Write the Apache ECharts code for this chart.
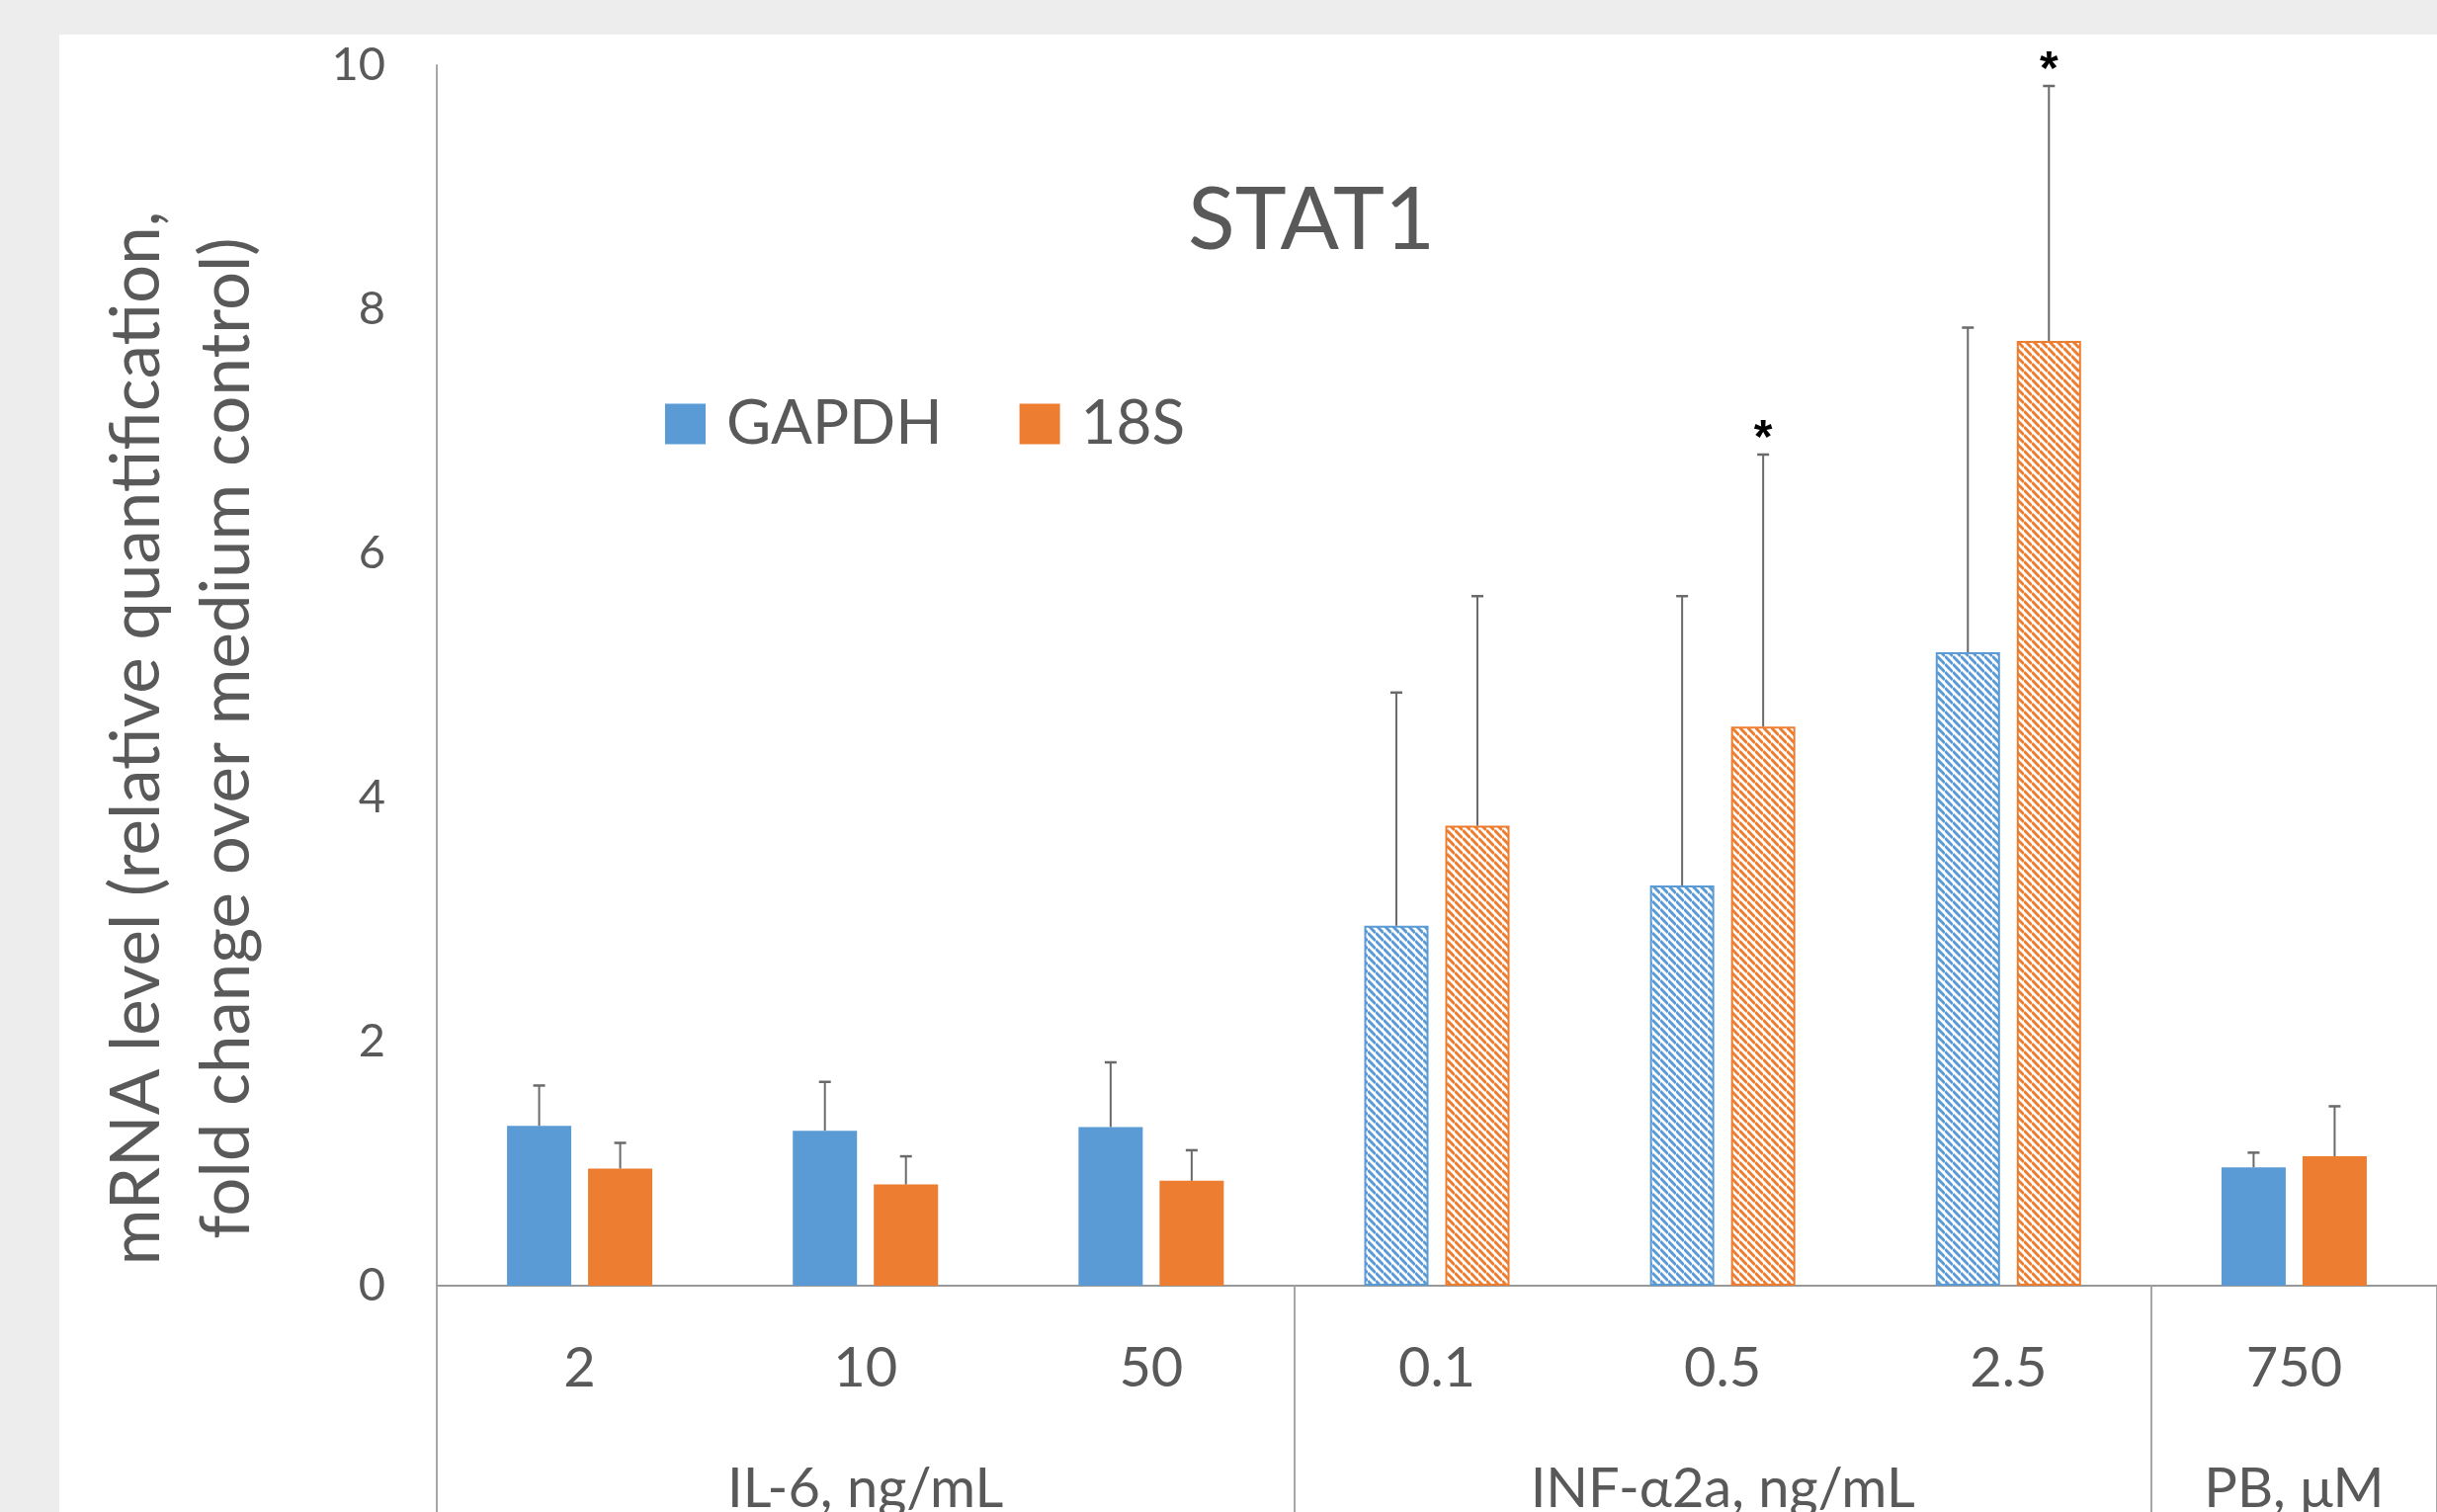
<!DOCTYPE html>
<html><head><meta charset="utf-8">
<script src="https://cdn.jsdelivr.net/npm/echarts@6/dist/echarts.min.js"></script>
<style>
html,body{margin:0;padding:0;background:#ededed;width:2466px;height:1530px;overflow:hidden;}
#panel{position:absolute;left:60px;top:35px;width:2406px;height:1495px;background:#fff;}
#chart{position:absolute;left:0;top:0;width:2466px;height:1530px;}
</style></head>
<body><div id="panel"></div><div id="chart"></div>
<script>
// ---- data ----
const categories = ['2', '10', '50', '0.1', '0.5', '2.5', '750'];
const groupLabels = ['IL-6, ng/mL', 'INF-α2a, ng/mL', 'PB, μM'];
const groupStartIndex = [0, 3, 6];
const groupLabelIndex = [1, 4, 6];
const gapdhMean = [1.31, 1.27, 1.30, 2.95, 3.28, 5.19, 0.97];
const gapdhErr  = [0.33, 0.40, 0.53, 1.91, 2.37, 2.66, 0.12];
const s18Mean   = [0.96, 0.83, 0.86, 3.77, 4.58, 7.74, 1.06];
const s18Err    = [0.21, 0.23, 0.25, 1.88, 2.23, 2.09, 0.41];
const s18Stars  = ['', '', '', '', '*', '*', ''];
const gapdhStars = ['', '', '', '', '', '', ''];
const hatched   = [false, false, false, true, true, true, false];
const yTicks = [0, 2, 4, 6, 8, 10];

// ---- style ----
const BLUE = '#5B9BD5', ORANGE = '#ED7D31', TXT = '#595959';
const FONT = 'Lato';
const BAR_W = 65, BAR_GAP_PX = 17;
const OFFSET = (BAR_W + BAR_GAP_PX) / 2;

function hatch(color) {
  const s = 8;
  const c = document.createElement('canvas');
  c.width = s; c.height = s;
  const ctx = c.getContext('2d');
  ctx.fillStyle = '#fff'; ctx.fillRect(0, 0, s, s);
  ctx.strokeStyle = color; ctx.lineWidth = 3;
  for (const k of [-s, 0, s]) {
    ctx.beginPath(); ctx.moveTo(0, k); ctx.lineTo(s, k + s); ctx.stroke();
  }
  return c;
}
const hatchBlue = hatch(BLUE), hatchOrange = hatch(ORANGE);

function barData(vals, color, pat) {
  return vals.map((v, i) => hatched[i]
    ? { value: v, itemStyle: { color: { image: pat, repeat: 'repeat' }, borderColor: color, borderWidth: 2 } }
    : { value: v });
}
function errData(mean, err, side, stars) {
  return mean.map((m, i) => [i, m, err[i], side, stars[i]]);
}
function renderErr(params, api) {
  const i = api.value(0), m = api.value(1), e = api.value(2), side = api.value(3);
  const star = api.value(4);
  const b = api.coord([i, m]);
  const t = api.coord([i, m + e]);
  const x = b[0] + side * OFFSET;
  const children = [
    { type: 'line', shape: { x1: x, y1: b[1], x2: x, y2: t[1] }, style: { stroke: '#6a6a6a', lineWidth: 2 } },
    { type: 'line', shape: { x1: x - 6, y1: t[1], x2: x + 6, y2: t[1] }, style: { stroke: '#6a6a6a', lineWidth: 2.5 } }
  ];
  if (star && star !== '-' ) {
    children.push({ type: 'text', x: x, y: t[1] - 15,
      style: { text: String(star), fill: '#000', font: 'bold 48px "Liberation Sans"', textAlign: 'center', textVerticalAlign: 'middle' } });
  }
  return { type: 'group', children };
}

const chart = echarts.init(document.getElementById('chart'), null, { renderer: 'canvas' });
chart.setOption({
  animation: false,
  backgroundColor: 'transparent',
  textStyle: { fontFamily: FONT },
  grid: { left: 442, top: 66, right: 0, bottom: 229, containLabel: false, outerBoundsMode: 'none' },
  legend: {
    data: ['GAPDH', '18S'], left: 673, top: 398, padding: 0,
    icon: 'rect', itemWidth: 41, itemHeight: 41, itemGap: 78,
    textStyle: { fontFamily: FONT, fontSize: 62, lineHeight: 62, color: TXT, padding: [0, 0, 0, 16] }
  },
  xAxis: [{
    type: 'category', data: categories, position: 'bottom',
    axisLine: { show: true, lineStyle: { color: '#999', width: 2 } },
    axisTick: { show: true, interval: (idx) => groupStartIndex.includes(idx), length: 229, lineStyle: { color: '#a6a6a6', width: 2 } },
    axisLabel: { interval: 0, fontFamily: FONT, fontSize: 56, lineHeight: 56, color: TXT, margin: 56 }
  }, {
    type: 'category', data: categories, position: 'bottom', gridIndex: 0,
    axisLine: { show: false }, axisTick: { show: false },
    axisLabel: { interval: 0, fontFamily: FONT, fontSize: 56, lineHeight: 56, color: TXT, margin: 178,
      formatter: (v, idx) => { const g = groupLabelIndex.indexOf(idx); return g >= 0 ? groupLabels[g] : ''; } }
  }],
  yAxis: {
    type: 'value', min: 0, max: 10, interval: 2,
    axisLine: { show: true, lineStyle: { color: '#a6a6a6', width: 2 } },
    axisTick: { show: false }, splitLine: { show: false },
    axisLabel: { fontFamily: FONT, fontSize: 47, color: TXT, margin: 52,
      formatter: (v) => yTicks.includes(v) ? String(v) : '' }
  },
  graphic: [
    { type: 'text', x: 1327, y: 224, style: { text: 'STAT1', font: '88px Lato', fill: TXT, textAlign: 'center', textVerticalAlign: 'middle' } },
    { type: 'text', x: 184, y: 747, rotation: Math.PI / 2,
      style: { text: 'mRNA level (relative quantification,\nfold change over medium control)', font: '69px Lato', lineHeight: 91, fill: TXT, textAlign: 'center', textVerticalAlign: 'middle' } }
  ],
  series: [
    { name: 'GAPDH', type: 'bar', data: barData(gapdhMean, BLUE, hatchBlue), barWidth: BAR_W, barGap: (BAR_GAP_PX / BAR_W * 100) + '%', itemStyle: { color: BLUE } },
    { name: '18S', type: 'bar', data: barData(s18Mean, ORANGE, hatchOrange), barWidth: BAR_W, itemStyle: { color: ORANGE } },
    { type: 'custom', renderItem: renderErr, data: errData(gapdhMean, gapdhErr, -1, gapdhStars), encode: { x: 0, y: 1 }, z: 3, silent: true },
    { type: 'custom', renderItem: renderErr, data: errData(s18Mean, s18Err, 1, s18Stars), encode: { x: 0, y: 1 }, z: 3, silent: true }
  ]
});
</script></body></html>
